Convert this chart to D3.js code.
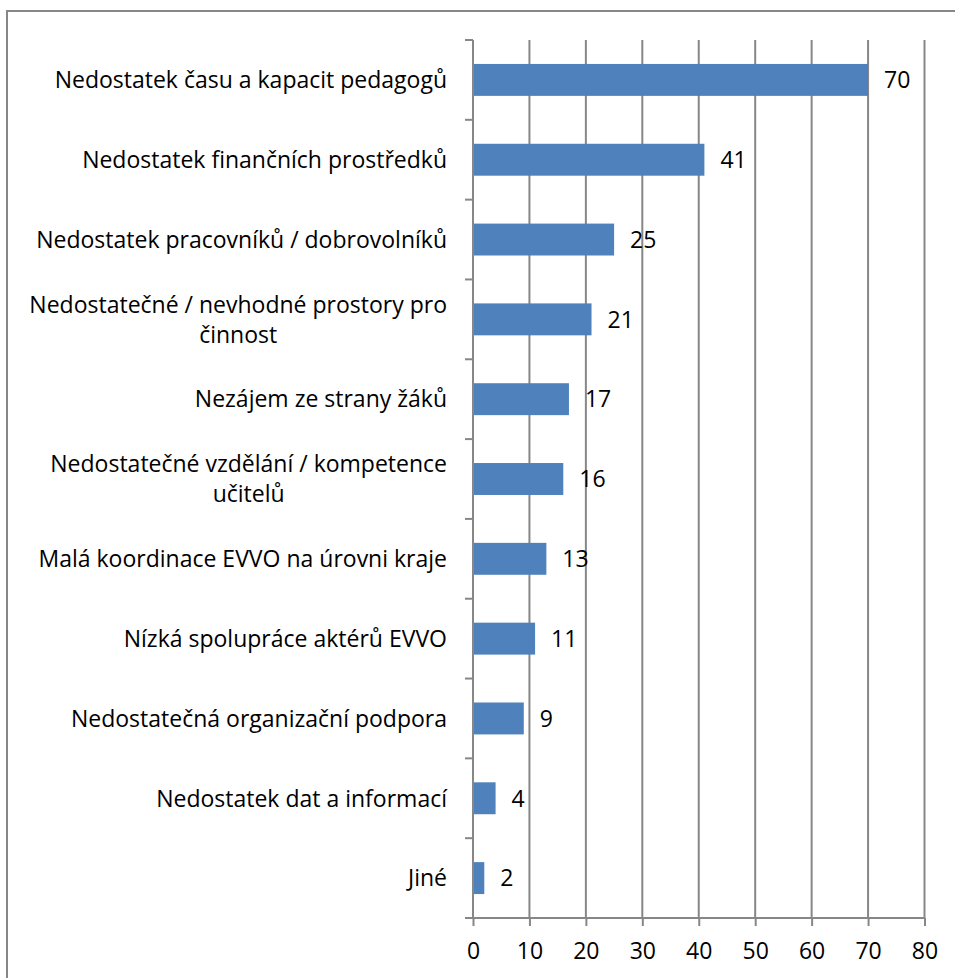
<!DOCTYPE html>
<html>
<head>
<meta charset="utf-8">
<script src="https://cdn.jsdelivr.net/npm/d3@7"></script>
<style>
  html, body { margin: 0; padding: 0; background: #fff; }
  svg { display: block; }
  text { font-family: "Open Sans", "Noto Sans", sans-serif; fill: #000; }
</style>
</head>
<body>
<svg id="chart" width="955" height="978"></svg>
<script>
// Obstacles reported for environmental education (EVVO), number of answers
const categories = [
  ["Nedostatek času a kapacit pedagogů"],
  ["Nedostatek finančních prostředků"],
  ["Nedostatek pracovníků / dobrovolníků"],
  ["Nedostatečné / nevhodné prostory pro", "činnost"],
  ["Nezájem ze strany žáků"],
  ["Nedostatečné vzdělání / kompetence", "učitelů"],
  ["Malá koordinace EVVO na úrovni kraje"],
  ["Nízká spolupráce aktérů EVVO"],
  ["Nedostatečná organizační podpora"],
  ["Nedostatek dat a informací"],
  ["Jiné"]
];
const values = [70, 41, 25, 21, 17, 16, 13, 11, 9, 4, 2];
const xTicks = [0, 10, 20, 30, 40, 50, 60, 70, 80];

const gridColor = "#878787";
const barColor = "#4f81bd";
const fontSize = 23;

const svg = d3.select("#chart");

// outer frame
svg.append("rect")
  .attr("x", 7).attr("y", 11)
  .attr("width", 970).attr("height", 990)
  .attr("fill", "none").attr("stroke", gridColor).attr("stroke-width", 2);

const plot = { left: 473, right: 924.5, top: 40, bottom: 918 };

const x = d3.scaleLinear().domain([0, 80]).range([plot.left, plot.right]);
const y = d3.scaleBand()
  .domain(d3.range(categories.length))
  .range([plot.top, plot.bottom])
  .paddingInner(0.6).paddingOuter(0.3);

// vertical gridlines
svg.append("g").selectAll("line")
  .data(xTicks.filter(d => d > 0))
  .join("line")
  .attr("x1", d => x(d)).attr("x2", d => x(d))
  .attr("y1", plot.top).attr("y2", plot.bottom)
  .attr("stroke", gridColor).attr("stroke-width", 2);

// bars
svg.append("g").selectAll("rect")
  .data(values)
  .join("rect")
  .attr("x", x(0))
  .attr("y", (d, i) => y(i))
  .attr("width", d => x(d) - x(0))
  .attr("height", y.bandwidth())
  .attr("fill", barColor);

// value labels
svg.append("g").selectAll("text")
  .data(values)
  .join("text")
  .attr("x", d => x(d) + 16)
  .attr("y", (d, i) => y(i) + y.bandwidth() / 2)
  .attr("dy", "0.36em")
  .style("font-size", fontSize + "px")
  .text(d => d);

// bottom axis
const xAxis = d3.axisBottom(x).tickValues(xTicks).tickSize(8).tickPadding(17).tickSizeOuter(0);
const gx = svg.append("g").attr("transform", `translate(0,${plot.bottom})`).call(xAxis);
gx.select(".domain").attr("stroke", gridColor).attr("stroke-width", 2)
  .attr("d", `M${plot.left - 8},0H${plot.right}`);
gx.selectAll(".tick line").attr("stroke", gridColor).attr("stroke-width", 2);
gx.selectAll(".tick text").style("font-size", fontSize + "px")
  .style("font-family", '"Open Sans", "Noto Sans", sans-serif').attr("fill", "#000");

// left axis: line with ticks at band boundaries
const boundary = d3.scaleLinear().domain([0, categories.length]).range([plot.top, plot.bottom]);
const gy = svg.append("g");
gy.append("line")
  .attr("x1", plot.left).attr("x2", plot.left).attr("y1", plot.top).attr("y2", plot.bottom)
  .attr("stroke", gridColor).attr("stroke-width", 2);
gy.selectAll("line.tk")
  .data(d3.range(categories.length))
  .join("line").attr("class", "tk")
  .attr("x1", plot.left - 8).attr("x2", plot.left)
  .attr("y1", d => boundary(d)).attr("y2", d => boundary(d))
  .attr("stroke", gridColor).attr("stroke-width", 2);

// category labels, right-aligned block; wrapped lines centred inside the block
const labelRight = 447;
const lineHeight = 30;
const labels = svg.append("g");
categories.forEach((lines, i) => {
  const cy = y(i) + y.bandwidth() / 2;
  const g = labels.append("g");
  const n = lines.length;
  const texts = lines.map((ln, k) =>
    g.append("text")
      .attr("y", cy + (k - (n - 1) / 2) * lineHeight)
      .attr("dy", "0.36em")
      .style("font-size", fontSize + "px")
      .text(ln));
  const widths = texts.map(t => t.node().getComputedTextLength());
  const maxW = d3.max(widths);
  const center = labelRight - maxW / 2;
  texts.forEach(t => t.attr("x", center).attr("text-anchor", "middle"));
});
</script>
</body>
</html>
